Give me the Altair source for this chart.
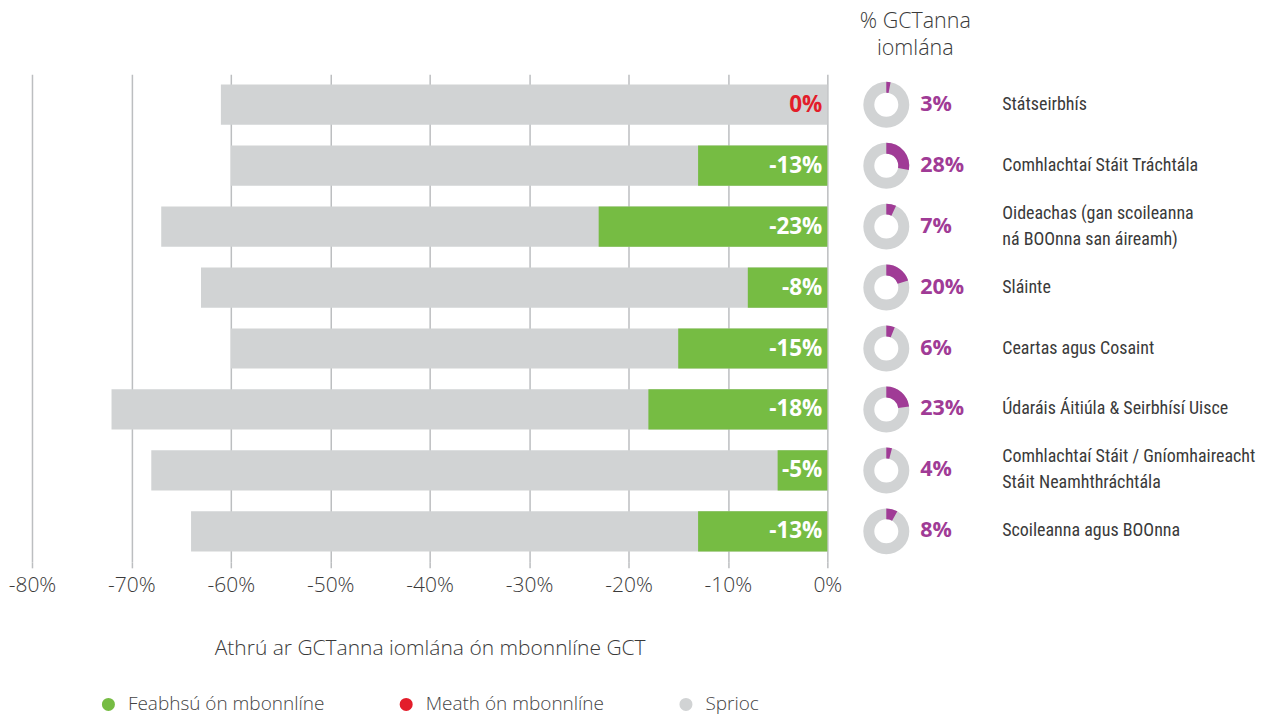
import altair as alt
import pandas as pd

categories = [
    "Státseirbhís",
    "Comhlachtaí Stáit Tráchtála",
    "Oideachas (gan scoileanna\nná BOOnna san áireamh)",
    "Sláinte",
    "Ceartas agus Cosaint",
    "Údaráis Áitiúla & Seirbhísí Uisce",
    "Comhlachtaí Stáit / Gníomhaireacht\nStáit Neamhthráchtála",
    "Scoileanna agus BOOnna",
]
change = [0, -13, -23, -8, -15, -18, -5, -13]
target = [-61, -60, -67, -63, -60, -72, -68, -64]
share = [3, 28, 7, 20, 6, 23, 4, 8]

statuses = ["Feabhsú ón mbonnlíne", "Meath ón mbonnlíne", "Sprioc"]
status_colors = ["#76bc43", "#e31d2a", "#d1d3d4"]
axis_ticks = [-80, -70, -60, -50, -40, -30, -20, -10, 0]
header = "% GCTanna\niomlána"
x_title = "Athrú ar GCTanna iomlána ón mbonnlíne GCT"

PURPLE = "#a03b96"
FONT = "Open Sans"
COND = "Roboto Condensed"

df = pd.DataFrame({
    "cat": categories,
    "change": change,
    "target": target,
    "share": share,
})
df["label"] = df["change"].astype(str) + "%"
df["share_label"] = df["share"].astype(str) + "%"
df["improve"] = [statuses[0] if c < 0 else statuses[1] for c in change]
df["sprioc"] = statuses[2]
df["multi"] = df["cat"].str.contains("\n")

yenc = alt.Y("cat:N", sort=categories, axis=None,
             scale=alt.Scale(paddingInner=0.34, paddingOuter=0.17))
cscale = alt.Scale(domain=statuses, range=status_colors)

base = alt.Chart(df)

gray = base.mark_bar().encode(
    x=alt.X("target:Q",
            scale=alt.Scale(domain=[-80, 0], nice=False, zero=False),
            axis=alt.Axis(values=axis_ticks, labelExpr="datum.value + '%'",
                          title=x_title, grid=True, domain=False,
                          gridColor="#bcbec0", gridWidth=1.5,
                          tickColor="#bcbec0", tickWidth=1.5, tickSize=6,
                          labelFont=FONT, labelFontSize=21, labelColor="#3a3a3a",
                          labelFontWeight=300,
                          labelPadding=7, titleFont=FONT, titleFontSize=21,
                          titleFontWeight=300, titleColor="#3a3a3a",
                          titlePadding=42, labelFlush=False)),
    y=yenc,
    color=alt.Color("sprioc:N", scale=cscale,
                    legend=alt.Legend(title=None, orient="none", direction="horizontal",
                                      legendX=67, legendY=621, symbolType="circle",
                                      symbolSize=170, symbolStrokeWidth=0,
                                      labelFont=FONT, labelFontSize=19, labelLimit=400,
                                      labelFontWeight=300,
                                      labelColor="#444444", labelOffset=10,
                                      columnPadding=72)),
)

green = base.mark_bar().encode(
    x=alt.X("change:Q"),
    y=yenc,
    color=alt.Color("improve:N", scale=cscale),
)

vals = base.mark_text(align="right", baseline="middle", dx=-5, font=FONT,
                      fontSize=22.5, fontWeight="bold").encode(
    x=alt.datum(0),
    y=yenc,
    text="label:N",
    color=alt.condition("datum.change >= 0", alt.value(status_colors[1]), alt.value("white")),
)

ring = base.mark_arc(radius=23, radius2=12, theta=0, theta2=6.2832,
                     color="#d1d3d4").encode(
    x=alt.value(855), y=yenc,
)

wedge = base.transform_calculate(
    t0="0", t1="datum.share / 100 * 2 * PI"
).mark_arc(radius=23, radius2=12, color=PURPLE).encode(
    x=alt.value(855), y=yenc,
    theta=alt.Theta("t0:Q", scale=None, stack=None),
    theta2=alt.Theta2("t1:Q"),
)

pct = base.mark_text(align="left", baseline="middle", font=FONT, fontSize=21.5,
                     fontWeight="bold", color=PURPLE).encode(
    x=alt.value(889), y=yenc, text="share_label:N",
)

names1 = base.transform_filter("!datum.multi").mark_text(
    align="left", baseline="middle", font=COND, fontSize=18,
    color="#3a3a3a").encode(
    x=alt.value(971), y=yenc, text="cat:N",
)

names2 = base.transform_filter("datum.multi").mark_text(
    align="left", baseline="middle", font=COND, fontSize=18, dy=-13,
    color="#3a3a3a", lineBreak="\n", lineHeight=26).encode(
    x=alt.value(971), y=yenc, text="cat:N",
)

head = alt.Chart(pd.DataFrame({"t": [header]})).mark_text(
    align="center", baseline="middle", font=FONT, fontSize=21.5, color="#3a3a3a",
    fontWeight=300, lineBreak="\n", lineHeight=27).encode(
    x=alt.value(884), y=alt.value(-52), text="t:N",
)

chart = alt.layer(gray, green, vals, ring, wedge, pct, names1, names2, head).properties(
    width=796, height=488,
    padding={"left": 0, "top": 3, "right": 0, "bottom": 0},
).configure_view(stroke=None)

chart.save("out.html", embed_options={"renderer": "svg", "actions": False})
